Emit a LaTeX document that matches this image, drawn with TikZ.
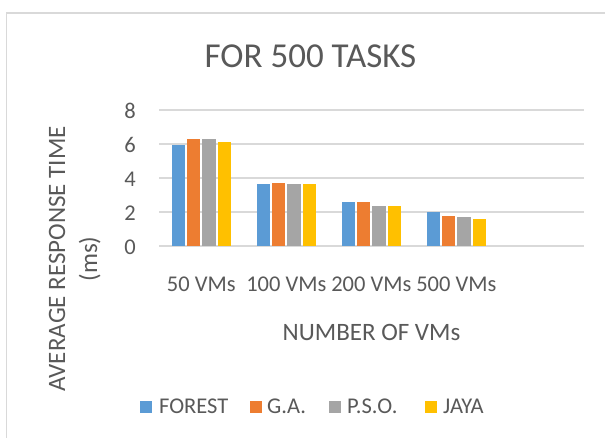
\documentclass[tikz,border=0pt]{standalone}
\usepackage{fontspec}
\setmainfont{Carlito}
\definecolor{txt}{HTML}{595959}
\definecolor{grid}{HTML}{D9D9D9}
\definecolor{cblue}{HTML}{5B9BD5}
\definecolor{corange}{HTML}{ED7D31}
\definecolor{cgray}{HTML}{A5A5A5}
\definecolor{cyellow}{HTML}{FFC000}
\begin{document}
\begin{tikzpicture}[x=1pt,y=-1pt,
  lbl/.style={text=txt,font=\fontsize{22.5}{27}\selectfont,inner sep=0pt},
  axt/.style={text=txt,font=\fontsize{25}{30}\selectfont,inner sep=0pt},
  gridline/.style={draw=grid,line width=1.2pt},
  barbox/.style={inner sep=0pt,minimum width=13.3pt,anchor=south},
  legsq/.style={inner sep=0pt,minimum size=12pt,anchor=west}]
\useasboundingbox (0,0) rectangle (605,438);
\fill[white] (0,0) rectangle (605,438);
% chart frame
\draw[draw=grid,line width=1.5pt] (6.5,440) -- (6.5,13) -- (607,13);
% title
\node[text=txt,font=\fontsize{35}{42}\selectfont,inner sep=0pt,anchor=base] (title) at (310.5,68) {FOR 500 TASKS};
% gridlines and ticks
\foreach \v in {0,2,4,6,8}{
  \coordinate (gl\v) at (159,{246-17*\v});
  \coordinate (gr\v) at (584,{246-17*\v});
  \draw[gridline] (gl\v) -- (gr\v);
  \node[lbl,anchor=east] (tick\v) at (136,{247-17*\v}) {\v};
}
% bars
\def\drawbar#1#2#3#4{% group index, offset, value, colour
  \pgfmathsetmacro{\bx}{201.3+85*#1+#2}
  \pgfmathsetmacro{\bh}{17*#3}
  \node[barbox,fill=#4,minimum height=\bh pt] (bar-#1-#4) at (\bx,246) {};
}
\foreach \g/\a/\b/\c/\d in {0/5.9/6.3/6.3/6.12, 1/3.63/3.69/3.63/3.63, 2/2.57/2.57/2.34/2.34, 3/1.96/1.75/1.67/1.59}{
  \drawbar{\g}{-23.1}{\a}{cblue}
  \drawbar{\g}{-7.7}{\b}{corange}
  \drawbar{\g}{7.7}{\c}{cgray}
  \drawbar{\g}{23.1}{\d}{cyellow}
}
% category labels
\node[lbl,anchor=base] (c50) at (201.3,292) {50 VMs};
\node[lbl,anchor=base] (c100) at (286.3,292) {100 VMs};
\node[lbl,anchor=base] (c200) at (371.3,292) {200 VMs};
\node[lbl,anchor=base] (c500) at (456.3,292) {500 VMs};
% axis titles
\node[axt,anchor=base] (xtitle) at (371.5,341) {NUMBER OF VMs};
\node[axt,anchor=base,rotate=90] (ytitle1) at (65,259) {AVERAGE RESPONSE TIME};
\node[axt,anchor=base,rotate=90] (ytitle2) at (97,259) {(ms)};
% legend
\node[legsq,fill=cblue] (lg1) at (140,407) {};
\node[lbl,anchor=base west] (lt1) at (159,413) {FOREST};
\node[legsq,fill=corange] (lg2) at (250,407) {};
\node[lbl,anchor=base west] (lt2) at (267,413) {G.A.};
\node[legsq,fill=cgray] (lg3) at (329,407) {};
\node[lbl,anchor=base west] (lt3) at (347,413) {P.S.O.};
\node[legsq,fill=cyellow] (lg4) at (425,407) {};
\node[lbl,anchor=base west] (lt4) at (443,413) {JAYA};
\end{tikzpicture}
\end{document}
